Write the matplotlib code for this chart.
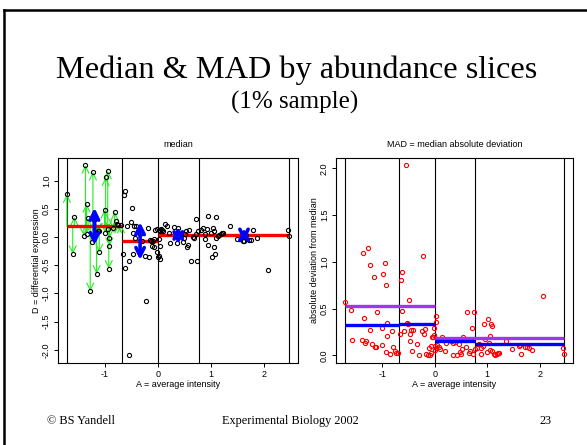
import numpy as np
import matplotlib
matplotlib.use("Agg")
import matplotlib.pyplot as plt
from matplotlib.lines import Line2D

# average intensity A and differential expression D for the 1% sample
a_vals = [
    # slice 1
    -1.72, -1.61, -1.58, -1.40, -1.37, -1.35, -1.34, -1.32, -1.28, -1.23,
    -1.24, -1.20, -1.16, -1.14, -1.12, -1.11, -1.01, -0.99, -0.95, -1.00,
    -0.94, -0.92, -0.92, -0.93, -0.82, -0.86, -0.79, -0.77, -0.75, -0.70,
    # slice 2
    -0.63, -0.64, -0.67, -0.62, -0.59, -0.50, -0.52, -0.46, -0.48, -0.54,
    -0.55, -0.48, -0.43, -0.35, -0.41, -0.30, -0.25, -0.23, -0.20, -0.18,
    -0.16, -0.13, -0.10, -0.08, -0.11, -0.08, -0.06, -0.03, -0.02, -0.01,
    # slice 3
    0.01, 0.03, 0.05, 0.02, 0.03, 0.01, 0.04, 0.08, 0.10, 0.13,
    0.16, 0.20, 0.22, 0.30, 0.34, 0.38, 0.42, 0.35, 0.46, 0.48,
    0.50, 0.52, 0.54, 0.57, 0.59, 0.62, 0.66, 0.68, 0.71, 0.74,
    0.76, 0.72,
    # slice 4
    0.80, 0.84, 0.88, 0.89, 0.92, 0.94, 0.95, 0.99, 1.02, 1.04,
    1.05, 1.05, 1.07, 1.10, 1.10, 1.12, 1.15, 1.18, 1.20, 1.23,
    1.35, 1.48, 1.60, 1.62, 1.65, 1.72, 1.75, 1.79, 1.86, 2.07,
    2.45, 2.47,
]
d_vals = [
    0.76, -0.30, 0.36, 0.02, 1.28, 0.59, 0.06, 0.34, -0.96, 1.16,
    -0.08, 0.31, -0.65, 0.10, 0.10, -0.27, 0.48, 1.06, 1.18, 0.08,
    0.15, -0.02, -0.16, -0.56, 0.45, 0.17, 0.28, 0.24, 0.22, 0.22,
    0.82, 0.74, -0.30, -0.55, 0.19, 0.52, 0.27, 0.20, 0.08, -0.42,
    -2.10, -0.30, -0.02, 0.05, 0.20, -0.07, -0.33, -1.13, 0.16, -0.35,
    -0.05, -0.07, -0.07, -0.04, -0.15, -0.17, 0.13, -0.27, 0.15, -0.36,
    0.13, 0.11, 0.14, -0.33, -0.39, -0.03, -0.15, 0.12, 0.10, 0.23,
    0.20, 0.08, -0.10, 0.18, 0.03, 0.17, 0.03, -0.10, -0.09, -0.01,
    0.05, 0.10, -0.17, -0.14, 0.12, -0.43, 0.00, -0.02, 0.32, -0.43,
    0.10, 0.05,
    0.12, 0.16, 0.06, -0.04, 0.14, 0.38, -0.14, 0.08, -0.35, 0.17,
    0.10, -0.17, -0.30, 0.35, -0.01, 0.02, 0.04, 0.06, 0.07, 0.07,
    0.19, -0.03, -0.06, -0.07, 0.03, -0.05, -0.05, 0.12, -0.02, -0.59,
    0.12, 0.02,
]

slice_breaks = [-1.72, -0.69, 0.0, 0.77, 2.47]
slice_medians = [0.19, -0.07, 0.03, 0.04]
slice_mads = [0.33, 0.335, 0.155, 0.12]
arrow_x = [-1.20, -0.34, 0.38, 1.62]
wide_breaks = [-1.72, 0.0, 2.47]
wide_mads = [0.525, 0.185]

a = np.array(a_vals)
d = np.array(d_vals)
idx = np.clip(np.digitize(a, slice_breaks[1:-1]), 0, 3)
med = np.array(slice_medians)[idx]
absdev = np.abs(d - med)

plt.rcParams["font.family"] = ["Liberation Sans", "DejaVu Sans"]

fig = plt.figure(figsize=(5.87, 4.45), dpi=100)

# slide frame (top and left edge)
fig.add_artist(Line2D([4 / 587, 1], [1 - 10 / 445, 1 - 10 / 445], color="black", lw=1.8))
fig.add_artist(Line2D([4 / 587, 4 / 587], [0, 1 - 10 / 445], color="black", lw=1.8))

serif = ["Liberation Serif", "DejaVu Serif"]
fig.text(297 / 587, 1 - 78 / 445, "Median & MAD by abundance slices", family=serif,
         fontsize=23.2, ha="center", va="baseline")
fig.text(295 / 587, 1 - 109 / 445, "(1% sample)", family=serif,
         fontsize=18, ha="center", va="baseline")
fig.text(47 / 587, 1 - 424 / 445, "© BS Yandell", family=serif, fontsize=8.8,
         ha="left", va="baseline")
fig.text(290 / 587, 1 - 424 / 445, "Experimental Biology 2002", family=serif,
         fontsize=8.8, ha="center", va="baseline")
fig.text(545 / 587, 1 - 424 / 445, "23", family=serif, fontsize=8.8,
         ha="center", va="baseline")

xlim = (-1.888, 2.638)
ax1 = fig.add_axes([58 / 587, 1 - 363 / 445, 240 / 587, 205 / 445])
ax2 = fig.add_axes([336 / 587, 1 - 363 / 445, 237 / 587, 205 / 445])


def r_style(ax, yticks):
    ax.set_xlim(*xlim)
    ax.set_xticks([-1, 0, 1, 2])
    ax.set_xticklabels(["-1", "0", "1", "2"])
    ax.set_yticks(yticks)
    ax.set_yticklabels([f"{t:.1f}" for t in yticks], rotation=90, va="center")
    ax.tick_params(labelsize=6.5, length=3, width=0.7, pad=2, direction="out")
    for s in ax.spines.values():
        s.set_linewidth(0.8)
    ax.set_xlabel("A = average intensity", fontsize=6.5, labelpad=1)


# left: median by slice
ax1.set_ylim(-2.235, 1.405)
for b in slice_breaks:
    ax1.axvline(b, color="black", lw=0.8)
sel = idx == 0
for x, y in zip(a[sel], d[sel]):
    ax1.annotate("", xy=(x, y), xytext=(x, slice_medians[0]),
                 arrowprops=dict(arrowstyle="->,head_length=0.5,head_width=0.25",
                                 color="#22ee22", lw=0.8, shrinkA=0, shrinkB=0))
for i in range(4):
    ax1.plot([slice_breaks[i], slice_breaks[i + 1]], [slice_medians[i]] * 2,
             color="red", lw=2.4, solid_capstyle="butt", zorder=3)
ax1.plot(a, d, "o", mfc="none", mec="black", ms=3, mew=0.8, zorder=4)
for i in range(4):
    ax1.annotate("", xy=(arrow_x[i], slice_medians[i] + slice_mads[i]),
                 xytext=(arrow_x[i], slice_medians[i] - slice_mads[i]),
                 arrowprops=dict(arrowstyle="<->,head_length=0.6,head_width=0.3",
                                 color="blue", lw=2.6, shrinkA=0, shrinkB=0),
                 zorder=5)
r_style(ax1, [-2.0, -1.5, -1.0, -0.5, 0.0, 0.5, 1.0])
ax1.set_ylabel("D = differential expression", fontsize=6.5, labelpad=1)
ax1.set_title("median", fontsize=6.5, pad=8)

# right: absolute deviation from slice median
ax2.set_ylim(-0.081, 2.11)
for b in slice_breaks:
    ax2.axvline(b, color="black", lw=0.8)
ax2.plot(a, absdev, "o", mfc="none", mec="red", ms=3, mew=0.8, zorder=3)
for i in range(2):
    ax2.plot([wide_breaks[i], wide_breaks[i + 1]], [wide_mads[i]] * 2,
             color="#a035f0", lw=2.4, solid_capstyle="butt", zorder=4)
for i in range(4):
    ax2.plot([slice_breaks[i], slice_breaks[i + 1]], [slice_mads[i]] * 2,
             color="blue", lw=2.4, solid_capstyle="butt", zorder=4)
r_style(ax2, [0.0, 0.5, 1.0, 1.5, 2.0])
ax2.set_ylabel("absolute deviation from median", fontsize=6.5, labelpad=1)
ax2.set_title("MAD = median absolute deviation", fontsize=6.5, pad=8)

fig.savefig("out.png", dpi=100)
